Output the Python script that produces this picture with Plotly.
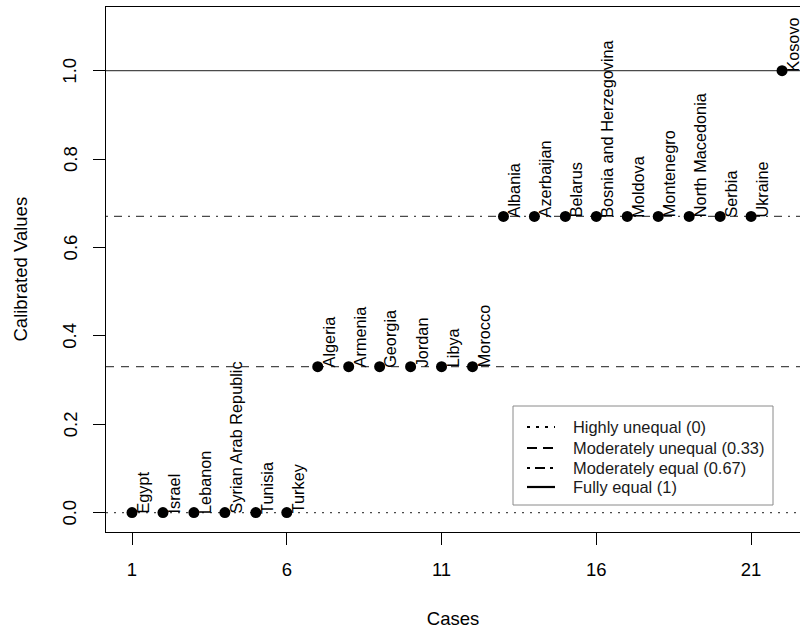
import plotly.graph_objects as go

# Calibrated value per case
countries = [
    "Egypt", "Israel", "Lebanon", "Syrian Arab Republic", "Tunisia", "Turkey",
    "Algeria", "Armenia", "Georgia", "Jordan", "Libya", "Morocco",
    "Albania", "Azerbaijan", "Belarus", "Bosnia and Herzegovina", "Moldova",
    "Montenegro", "North Macedonia", "Serbia", "Ukraine", "Kosovo",
]
cases = list(range(1, len(countries) + 1))
values = [0, 0, 0, 0, 0, 0,
          0.33, 0.33, 0.33, 0.33, 0.33, 0.33,
          0.67, 0.67, 0.67, 0.67, 0.67, 0.67, 0.67, 0.67, 0.67,
          1]

# Reference levels
level_values = [0, 0.33, 0.67, 1]
level_names = ["Highly unequal (0)", "Moderately unequal (0.33)",
               "Moderately equal (0.67)", "Fully equal (1)"]
level_dashes = ["2px,6px", "8px,7px", "2px,6px,8px,6px", "solid"]
legend_dashes = ["3px,6px", "10px,6px", "3px,5px,10px,5px", "solid"]

x_ticks = [1, 6, 11, 16, 21]
y_ticks = [0.0, 0.2, 0.4, 0.6, 0.8, 1.0]

x_range = [0.16, 22.58]
y_range = [-0.044, 1.144]

FONT = "Liberation Sans, Arial, Helvetica, sans-serif"
AXIS_FONT = dict(family=FONT, size=18.5, color="black")

# plot area in pixels (for placing the legend box in paper units)
L, R, T, B = 106, 800, 7, 532


def px_x(p):
    return (p - L) / (R - L)


def px_y(p):
    return (B - p) / (B - T)


fig = go.Figure()

# horizontal reference lines across the plot
for v, d in zip(level_values, level_dashes):
    fig.add_trace(go.Scatter(
        x=[x_range[0], 23.0], y=[v, v], mode="lines",
        line=dict(color="#4a4a4a", width=1.2, dash=d),
        showlegend=False, hoverinfo="skip",
    ))

# case points
fig.add_trace(go.Scatter(
    x=cases, y=values, mode="markers",
    marker=dict(color="black", size=11),
    showlegend=False, cliponaxis=False,
))

# rotated case labels
for c, v, name in zip(cases, values, countries):
    fig.add_annotation(
        x=c, y=v, xref="x", yref="y", text=name, showarrow=False,
        textangle=-90, xanchor="left", yanchor="bottom",
        xshift=0, yshift=-3,
        font=dict(family=FONT, size=16.3, color="black"),
    )

# y tick labels, drawn parallel to the axis
for t in y_ticks:
    fig.add_annotation(
        x=0, y=t, xref="paper", yref="y", text=f"{t:.1f}", showarrow=False,
        textangle=-90, xanchor="center", yanchor="middle", xshift=-36,
        font=AXIS_FONT,
    )

# y axis title
fig.add_annotation(
    x=0, y=0.5, xref="paper", yref="paper", text="Calibrated Values",
    showarrow=False, textangle=-90, xanchor="center", yanchor="middle",
    xshift=-86, font=AXIS_FONT,
)

# legend box
fig.add_shape(type="rect", xref="paper", yref="paper",
              x0=px_x(513), x1=px_x(773), y0=px_y(505), y1=px_y(406),
              line=dict(color="#8a8a8a", width=1), fillcolor="white",
              layer="above")
row_y = [427, 448, 468, 487]
for ry, name, d in zip(row_y, level_names, legend_dashes):
    fig.add_shape(type="line", xref="paper", yref="paper",
                  x0=px_x(527), x1=px_x(555), y0=px_y(ry), y1=px_y(ry),
                  line=dict(color="black", width=2.2, dash=d), layer="above")
    fig.add_annotation(x=px_x(571), y=px_y(ry), xref="paper", yref="paper",
                       text=name, showarrow=False, xanchor="left",
                       yanchor="middle",
                       font=dict(family=FONT, size=16.4, color="#1a1a1a"))

fig.update_layout(
    width=800, height=633,
    margin=dict(l=L, r=0, t=T, b=633 - B),
    paper_bgcolor="white", plot_bgcolor="white",
    font=dict(family=FONT, color="black"),
    showlegend=False,
)

fig.update_xaxes(
    range=x_range, tickmode="array", tickvals=x_ticks,
    ticktext=[str(t) for t in x_ticks],
    showgrid=False, zeroline=False,
    showline=True, linecolor="black", linewidth=1.3, mirror=True,
    ticks="outside", ticklen=12, tickwidth=1.3, tickcolor="black",
    tickfont=AXIS_FONT,
    ticklabelstandoff=9,
    title=dict(text="Cases", font=AXIS_FONT, standoff=32),
)
fig.update_yaxes(
    range=y_range, tickmode="array", tickvals=y_ticks,
    showticklabels=False,
    showgrid=False, zeroline=False,
    showline=True, linecolor="black", linewidth=1.3, mirror=False,
    ticks="outside", ticklen=12, tickwidth=1.3, tickcolor="black",
)

fig.write_html("out.html")
